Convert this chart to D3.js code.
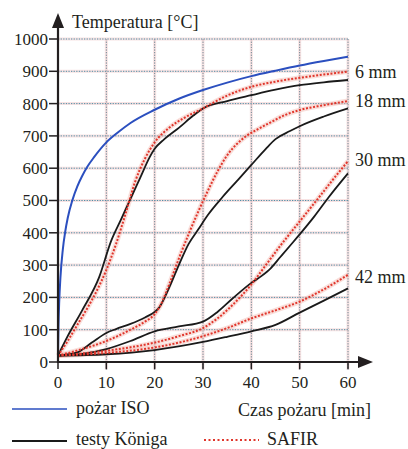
<!DOCTYPE html>
<html><head><meta charset="utf-8">
<script src="https://cdn.jsdelivr.net/npm/d3@7"></script>
<style>body{margin:0;background:#fff}svg{display:block}text{font-family:"Liberation Serif","Times New Roman",serif;fill:#231f20}</style>
</head><body><div id="chart"></div>
<script>
// ---- data ----
const xTicks = [0,10,20,30,40,50,60];
const yTicks = [0,100,200,300,400,500,600,700,800,900,1000];

const isoT = [0,0.1,0.25,0.5,1,1.5,2,3,4,5,6,7.5,10,12.5,15,20,25,30,35,40,45,50,55,60];
const isoV = [20,110,185,261,349,404,445,502,544,576,603,635,680,712,740,781,815,842,865,885,902,918,932,945];

const k6T = [0,2,5,8.5,11,13,15,17,19,20,22,25,28,30,35,40,45,50,55,60];
const k6V = [20,80,160,262,375,440,505,570,635,660,690,725,763,785,808,826,843,857,866,873];
const s6T = [0,2,4,6,8,10,12,14,16,18,20,23,26,30,35,40,45,50,55,60];
const s6V = [20,65,115,165,220,285,365,460,560,630,680,725,755,785,825,852,868,880,890,899];

const k18T = [0,4,7,10,12,15,18,20,21,23,25,27,29,31,34,37,40,43,45,48,50,55,60];
const k18V = [20,30,60,90,102,118,138,155,170,230,300,365,410,455,510,560,610,660,690,715,730,760,785];
const s18T = [0,5,10,15,18,20,21,23,25,27,29,31,33,35,37,39,41,44,47,50,55,60];
const s18V = [20,40,65,100,125,148,170,240,320,395,465,530,590,640,675,700,718,742,765,780,795,808];

const k30T = [0,5,10,15,20,25,30,33,36,40,42,44,46,48,50,53,56,60];
const k30V = [20,25,40,65,95,110,125,155,195,245,265,290,325,360,395,450,510,584];
const s30T = [0,10,20,25,30,33,36,40,43,46,50,54,57,60];
const s30V = [20,35,60,80,105,135,175,240,300,360,435,510,567,622];

const k42T = [0,10,20,30,35,40,45,50,55,60];
const k42V = [20,24,37,62,78,95,115,153,190,228];
const s42T = [0,10,20,25,30,35,40,45,50,55,60];
const s42V = [20,28,45,60,80,105,135,160,187,225,270];

const thicknessLabels = ["6 mm","18 mm","30 mm","42 mm"];
const labelValues = [900,810,625,265];
const legendLabels = ["pożar ISO","testy Königa","SAFIR"];

// ---- drawing ----
const W=408,H=449;
const svg=d3.select("#chart").append("svg").attr("width",W).attr("height",H);
const x=d3.scaleLinear().domain([0,60]).range([58,348]);
const y=d3.scaleLinear().domain([0,1000]).range([362,39]);

// grid
const g=svg.append("g");
g.selectAll(".vg").data(xTicks.slice(1)).join("line")
 .attr("x1",d=>x(d)).attr("x2",d=>x(d)).attr("y1",y(1000)).attr("y2",y(0)+8)
 .attr("stroke","#f3c9c9").attr("stroke-width",3).attr("opacity",0.5);
g.selectAll(".vg2").data(xTicks.slice(1)).join("line")
 .attr("x1",d=>x(d)).attr("x2",d=>x(d)).attr("y1",y(1000)).attr("y2",y(0)+8)
 .attr("stroke","#6d8592").attr("stroke-width",1).attr("stroke-dasharray","1.3,1.3");
g.selectAll(".hg").data(yTicks.slice(1)).join("line")
 .attr("x1",x(0)).attr("x2",x(60)).attr("y1",d=>y(d)).attr("y2",d=>y(d))
 .attr("stroke","#f3c9c9").attr("stroke-width",3).attr("opacity",0.5);
g.selectAll(".hg2").data(yTicks.slice(1)).join("line")
 .attr("x1",x(0)).attr("x2",x(60)).attr("y1",d=>y(d)).attr("y2",d=>y(d))
 .attr("stroke","#4f8ea6").attr("stroke-width",1).attr("stroke-dasharray","1.3,1.3");

const line=d3.line().x(d=>x(d[0])).y(d=>y(d[1])).curve(d3.curveMonotoneX);
const zip=(a,b)=>a.map((t,i)=>[t,b[i]]);

const safir=[zip(s6T,s6V),zip(s18T,s18V),zip(s30T,s30V),zip(s42T,s42V)];
const konig=[zip(k6T,k6V),zip(k18T,k18V),zip(k30T,k30V),zip(k42T,k42V)];

// safir halo
svg.append("g").selectAll("path").data(safir).join("path")
 .attr("d",line).attr("fill","none").attr("stroke","#f2b7b0").attr("stroke-width",5).attr("opacity",0.45);
svg.append("g").selectAll("path").data(konig).join("path")
 .attr("d",line).attr("fill","none").attr("stroke","#1a1a1a").attr("stroke-width",1.8);
svg.append("g").selectAll("path").data(safir).join("path")
 .attr("d",line).attr("fill","none").attr("stroke","#e0362c").attr("stroke-width",2).attr("stroke-dasharray","2,1.6");
svg.append("path").datum(zip(isoT,isoV)).attr("d",line).attr("fill","none")
 .attr("stroke","#2b4fbf").attr("stroke-width",2);

// axes
const ax=svg.append("g");
ax.append("line").attr("x1",x(0)).attr("x2",x(0)).attr("y1",y(0)+1).attr("y2",26).attr("stroke","#231f20").attr("stroke-width",2.2);
ax.append("path").attr("d",`M${x(0)-6},28 L${x(0)},13 L${x(0)+6},28 Z`).attr("fill","#231f20");
ax.append("line").attr("x1",x(0)-1).attr("x2",360).attr("y1",y(0)).attr("y2",y(0)).attr("stroke","#231f20").attr("stroke-width",2.2);
ax.append("path").attr("d",`M358,${y(0)-6} L373,${y(0)} L358,${y(0)+6} Z`).attr("fill","#231f20");

ax.selectAll(".yt").data(yTicks).join("line")
 .attr("x1",x(0)-9).attr("x2",x(0)).attr("y1",d=>y(d)).attr("y2",d=>y(d)).attr("stroke","#231f20").attr("stroke-width",1.5);
ax.selectAll(".yl").data(yTicks).join("text")
 .attr("x",x(0)-10).attr("y",d=>y(d)).attr("dy","0.35em").attr("text-anchor","end")
 .attr("font-size",17).text(d=>d);
ax.selectAll(".xt").data(xTicks).join("line")
 .attr("x1",d=>x(d)).attr("x2",d=>x(d)).attr("y1",y(0)).attr("y2",y(0)+7).attr("stroke","#231f20").attr("stroke-width",1.5);
ax.selectAll(".xl").data(xTicks).join("text")
 .attr("x",d=>x(d)).attr("y",y(0)+20).attr("dy","0.35em").attr("text-anchor","middle")
 .attr("font-size",17).text(d=>d);

svg.append("text").attr("x",72).attr("y",22).attr("dy","0.35em").attr("font-size",18).text("Temperatura [°C]");
svg.append("text").attr("x",371).attr("y",410).attr("dy","0.35em").attr("text-anchor","end").attr("font-size",18).text("Czas pożaru [min]");

svg.append("g").selectAll("text").data(thicknessLabels).join("text")
 .attr("x",355).attr("y",(d,i)=>y(labelValues[i])).attr("dy","0.35em").attr("font-size",18).text(d=>d);

// legend
svg.append("line").attr("x1",12).attr("x2",67).attr("y1",409).attr("y2",409).attr("stroke","#2b4fbf").attr("stroke-width",1.6);
svg.append("text").attr("x",76).attr("y",408).attr("dy","0.35em").attr("font-size",18).text(legendLabels[0]);
svg.append("line").attr("x1",12).attr("x2",67).attr("y1",441).attr("y2",441).attr("stroke","#1a1a1a").attr("stroke-width",2);
svg.append("text").attr("x",76).attr("y",439).attr("dy","0.35em").attr("font-size",18).text(legendLabels[1]);
svg.append("line").attr("x1",204).attr("x2",259).attr("y1",440).attr("y2",440).attr("stroke","#e0362c").attr("stroke-width",2).attr("stroke-dasharray","2,2.5");
svg.append("text").attr("x",267).attr("y",439).attr("dy","0.35em").attr("font-size",18).text(legendLabels[2]);
</script></body></html>
